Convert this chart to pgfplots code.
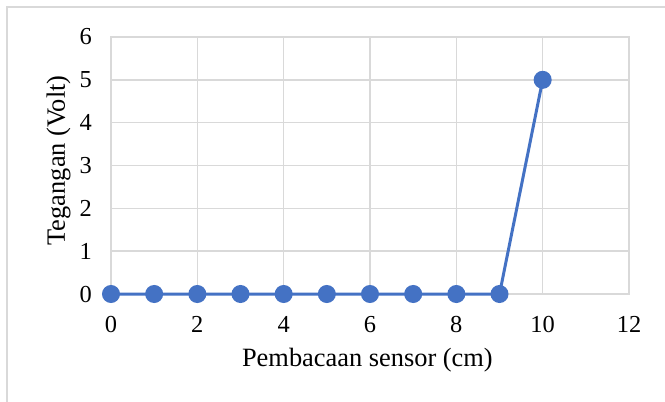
\documentclass[border=0pt]{standalone}
\usepackage{pgfplots}
\pgfplotsset{compat=1.18}
\usepackage{fontspec}
\setmainfont{Liberation Serif}
\definecolor{gridgray}{RGB}{217,217,217}
\definecolor{xlblue}{RGB}{68,114,196}
\begin{document}
\begin{tikzpicture}[x=1bp,y=1bp]
\useasboundingbox (0,0) rectangle (665,401);
\draw[gridgray, line width=1.5bp] (7,-5) -- (7,394) -- (670,394);
\begin{axis}[
  at={(111bp,107bp)}, anchor=south west,
  scale only axis, width=518bp, height=257bp,
  xmin=0, xmax=12, ymin=0, ymax=6,
  xtick={0,2,...,12}, ytick={0,1,...,6},
  grid=major,
  major grid style={gridgray, line width=1.5bp},
  axis line style={gridgray, line width=1.5bp},
  tick style={draw=none},
  /pgf/number format/assume math mode=true,
  ticklabel style={font=\fontsize{24.5}{29}\selectfont, inner sep=0pt},
  xticklabel style={anchor=base, yshift=-38bp},
  yticklabel style={anchor=east, xshift=-19bp},
  xlabel={Pembacaan sensor (cm)},
  ylabel={Tegangan (Volt)},
  label style={font=\fontsize{26.5}{31}\selectfont, inner sep=0pt},
  xlabel style={at={(axis description cs:0.495,-0.2802)}, anchor=base},
  ylabel style={at={(axis description cs:-0.0888,0.52)}, anchor=base},
  clip=false,
]
\addplot[xlblue, line width=3bp, mark=*, mark size=7.5bp, mark options={fill=xlblue, draw=none}]
  coordinates {(0,0) (1,0) (2,0) (3,0) (4,0) (5,0) (6,0) (7,0) (8,0) (9,0) (10,5)};
\end{axis}
\end{tikzpicture}
\end{document}
